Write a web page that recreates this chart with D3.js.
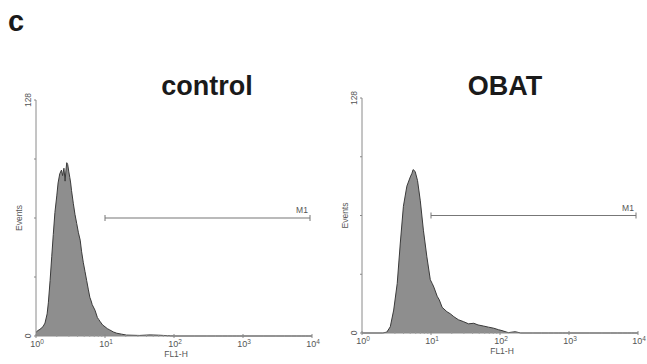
<!DOCTYPE html>
<html>
<head>
<meta charset="utf-8">
<script src="https://cdn.jsdelivr.net/npm/d3@7"></script>
<style>
  body { margin: 0; background: #fff; }
  svg { display: block; font-family: "Liberation Sans", Arial, sans-serif; }
</style>
</head>
<body>
<script>
// FL1-H intensity and event counts
var controlFL1 = [1.00, 1.07, 1.14, 1.26, 1.35, 1.45, 1.51, 1.60, 1.69, 1.78, 1.88, 2.00, 2.09, 2.21, 2.34,
    2.43, 2.54, 2.64, 2.72, 2.79, 2.88, 2.99, 3.09, 3.18, 3.27, 3.47, 3.67, 3.89, 4.12, 4.37, 4.57, 4.84, 5.13, 5.43,
    5.75, 6.03, 6.30, 6.53, 7.16, 7.76, 8.10, 8.51, 9.23, 10.0, 10.8, 11.7, 13.2, 14.8, 17.4, 20.4, 31.6, 45, 63, 100, 10000];
var controlEvents = [2, 3, 3.6, 5, 7, 12, 18, 30, 43, 55, 67, 76, 83, 88, 90,
    87, 91, 84, 90, 94, 93, 89, 86, 83, 79, 72, 66, 61, 56, 52, 46, 40, 35, 30,
    25, 21, 19, 17, 14, 10, 9, 7.8, 6, 5, 4, 3.3, 2.2, 1.5, 1, 0.5, 0.3, 0.6, 0.4, 0, 0];

var obatFL1 = [1.00, 2.00, 2.29, 2.57, 2.88, 3.24, 3.59, 3.98, 4.47, 5.01, 5.30, 5.50, 5.89, 6.38, 7.00,
    7.76, 8.71, 9.77, 10.4, 11.0, 12.3, 13.2, 14.5, 17.0, 19.0, 21.4, 25.0, 29.5, 35.0, 41.7, 48.0,
    57.5, 68.0, 81.3, 95.0, 107, 132, 166, 200, 10000];
var obatEvents = [0, 0, 0.5, 3.4, 12.5, 27, 49, 69, 80, 85, 87, 89, 88, 83, 72,
    56, 41.5, 29, 27, 25, 20, 18, 14, 11.6, 10.5, 8.9, 7.2, 6.2, 5.0, 5.3, 4.4,
    3.8, 3.2, 2.6, 1.8, 1.3, 0.2, 0.7, 0, 0];

var panelNames = ["control", "OBAT"];
var xTickPowers = [0, 1, 2, 3, 4];
var yTickValues = [0, 32, 64, 96, 128];
var m1Range = [10, 10000];
var m1Height = 64;

var w = 647, h = 364;
var svg = d3.select("body").append("svg").attr("width", w).attr("height", h);

svg.append("text")
    .attr("x", 8).attr("y", 31)
    .attr("font-size", 29).attr("font-weight", "bold").attr("fill", "#1a1a1a")
    .text("c");

var panels = [
    { name: panelNames[0], fl1: controlFL1, events: controlEvents, left: 36, top: 100, height: 236, titleX: 207 },
    { name: panelNames[1], fl1: obatFL1, events: obatEvents, left: 362, top: 98, height: 235, titleX: 505 }
];

var plotW = 276;

panels.forEach(function(p) {
    var g = svg.append("g").attr("transform", "translate(" + p.left + "," + p.top + ")");

    var x = d3.scaleLog().domain([1, 10000]).range([0, plotW]);
    var y = d3.scaleLinear().domain([0, 128]).range([p.height, 0]);

    // title
    svg.append("text")
        .attr("x", p.titleX).attr("y", 95)
        .attr("text-anchor", "middle")
        .attr("font-size", 27).attr("font-weight", "bold").attr("fill", "#1a1a1a")
        .text(p.name);

    // histogram
    var points = p.fl1.map(function(v, i) { return [v, p.events[i]]; });
    var area = d3.area()
        .x(function(d) { return x(d[0]); })
        .y0(y(0))
        .y1(function(d) { return y(d[1]); });
    var line = d3.line()
        .x(function(d) { return x(d[0]); })
        .y(function(d) { return y(d[1]); });

    g.append("path").datum(points)
        .attr("d", area)
        .attr("fill", "#8e8e8e");
    g.append("path").datum(points)
        .attr("d", line)
        .attr("fill", "none")
        .attr("stroke", "#3a3a3a")
        .attr("stroke-width", 1);

    // axes
    g.append("line")
        .attr("x1", 0).attr("x2", 0).attr("y1", 0).attr("y2", p.height)
        .attr("stroke", "#8a8a8a").attr("stroke-width", 1);
    g.append("line")
        .attr("x1", 0).attr("x2", plotW).attr("y1", p.height).attr("y2", p.height)
        .attr("stroke", "#8a8a8a").attr("stroke-width", 1.2);

    // minor ticks on x
    xTickPowers.slice(0, 4).forEach(function(pw) {
        for (var k = 2; k <= 9; k++) {
            var xv = x(Math.pow(10, pw) * k);
            g.append("line")
                .attr("x1", xv).attr("x2", xv)
                .attr("y1", p.height - 1).attr("y2", p.height + 1)
                .attr("stroke", "#999").attr("stroke-width", 0.8);
        }
    });

    // x tick labels
    xTickPowers.forEach(function(pw) {
        var xv = x(Math.pow(10, pw));
        g.append("line")
            .attr("x1", xv).attr("x2", xv)
            .attr("y1", p.height - 2).attr("y2", p.height + 2)
            .attr("stroke", "#888");
        var t = g.append("text")
            .attr("x", xv + 1).attr("y", p.height + 11)
            .attr("text-anchor", "middle")
            .attr("font-size", 9).attr("fill", "#555");
        t.append("tspan").text("10");
        t.append("tspan").attr("dy", -3).attr("font-size", 6.5).text(pw);
    });

    // y ticks
    yTickValues.forEach(function(v) {
        g.append("line")
            .attr("x1", -2).attr("x2", 0)
            .attr("y1", y(v)).attr("y2", y(v))
            .attr("stroke", "#888");
    });
    [0, 128].forEach(function(v) {
        g.append("text")
            .attr("transform", "translate(-5," + y(v) + ") rotate(-90)")
            .attr("text-anchor", "middle")
            .attr("font-size", 8.5).attr("fill", "#555")
            .text(v);
    });

    g.append("text")
        .attr("transform", "translate(-14," + (p.height / 2) + ") rotate(-90)")
        .attr("text-anchor", "middle")
        .attr("font-size", 8.5).attr("fill", "#555")
        .text("Events");

    g.append("text")
        .attr("x", plotW / 2 + 2).attr("y", p.height + 21)
        .attr("text-anchor", "middle")
        .attr("font-size", 8.5).attr("fill", "#555")
        .text("FL1-H");

    // M1 marker
    var my = y(m1Height);
    g.append("line")
        .attr("x1", x(m1Range[0])).attr("x2", x(m1Range[1]) - 2)
        .attr("y1", my).attr("y2", my)
        .attr("stroke", "#777").attr("stroke-width", 1.2);
    [x(m1Range[0]), x(m1Range[1]) - 2].forEach(function(xv) {
        g.append("line")
            .attr("x1", xv).attr("x2", xv)
            .attr("y1", my - 3).attr("y2", my + 3)
            .attr("stroke", "#777").attr("stroke-width", 1);
    });
    g.append("text")
        .attr("x", x(m1Range[1]) - 10).attr("y", my - 5)
        .attr("text-anchor", "middle")
        .attr("font-size", 8.5).attr("fill", "#555")
        .text("M1");
});
</script>
</body>
</html>
